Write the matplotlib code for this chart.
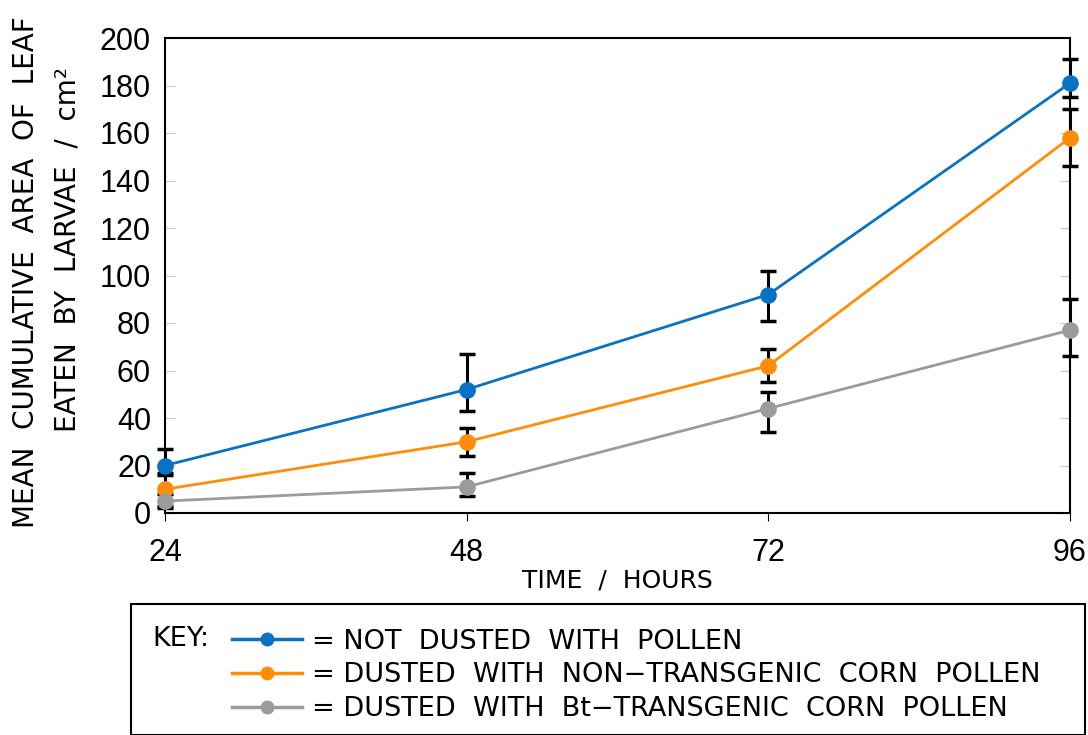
import numpy as np
import matplotlib.pyplot as plt
from matplotlib.patches import Rectangle
from matplotlib.lines import Line2D

# data
hours = [24, 48, 72, 96]
not_dusted = [20, 52, 92, 181]
not_dusted_lo = [4, 9, 11, 6]
not_dusted_hi = [7, 15, 10, 10]
non_transgenic = [10, 30, 62, 158]
non_transgenic_lo = [7, 6, 7, 12]
non_transgenic_hi = [7, 6, 7, 12]
bt_transgenic = [5, 11, 44, 77]
bt_transgenic_lo = [3, 4, 10, 11]
bt_transgenic_hi = [3, 6, 7, 13]

labels = ['= NOT  DUSTED  WITH  POLLEN',
          '= DUSTED  WITH  NON\u2212TRANSGENIC  CORN  POLLEN',
          '= DUSTED  WITH  Bt\u2212TRANSGENIC  CORN  POLLEN']
colors = ['#0A72C2', '#FF8C0A', '#9B9B9B']

plt.rcParams['font.family'] = ['DejaVu Sans']

fig = plt.figure(figsize=(10.88, 7.35), dpi=100)
ax = fig.add_axes([165/1088, 1-513/735, (1070-165)/1088, (513-38)/735])

series = [(not_dusted, not_dusted_lo, not_dusted_hi),
          (non_transgenic, non_transgenic_lo, non_transgenic_hi),
          (bt_transgenic, bt_transgenic_lo, bt_transgenic_hi)]

# error bars first (black), then the lines on top
for (vals, lo, hi) in series:
    ax.errorbar(hours, vals, yerr=[lo, hi], fmt='none', ecolor='black',
                elinewidth=2.2, capsize=6, capthick=2.5, zorder=3, clip_on=False)
for (vals, lo, hi), c in zip(series, colors):
    ax.plot(hours, vals, color=c, lw=2, marker='o', ms=11, zorder=4, clip_on=False)

ax.set_xlim(24, 96)
ax.set_ylim(0, 200)
ax.set_xticks(hours)
ax.set_yticks(np.arange(0, 201, 20))
ax.tick_params(axis='y', direction='in', length=7, color='#c8c8c8', right=True, pad=10)
ax.tick_params(axis='x', direction='out', length=6, pad=12)
for lab in ax.get_xticklabels() + ax.get_yticklabels():
    lab.set_fontfamily('Liberation Sans')
    lab.set_fontsize(22)
for s in ax.spines.values():
    s.set_linewidth(1.5)

ax.set_xlabel('TIME  /  HOURS', fontsize=18, labelpad=0)
fig.text(26/1088, 1-272/735, 'MEAN  CUMULATIVE  AREA  OF  LEAF', rotation=90,
         fontsize=20, ha='center', va='center')
fig.text(68/1088, 1-250/735, 'EATEN  BY  LARVAE  /  cm\u00b2', rotation=90,
         fontsize=20, ha='center', va='center')

# key box
fig.patches.append(Rectangle((131/1088, 0), (1085-131)/1088, (735-604)/735,
                             transform=fig.transFigure, fill=False,
                             edgecolor='black', lw=1.5))
fig.text(152/1088, 1-639/735, 'KEY:', fontsize=19.5, va='center')
handles = [Line2D([], [], color=c, lw=2.5, marker='o', ms=9) for c in colors]
fig.legend(handles, labels, loc='upper left', bbox_to_anchor=(221/1088, 1-618/735),
           frameon=False, fontsize=19.5, handlelength=2.6, handletextpad=0.35,
           labelspacing=0.28, borderaxespad=0)

plt.savefig('out.png', dpi=100)
